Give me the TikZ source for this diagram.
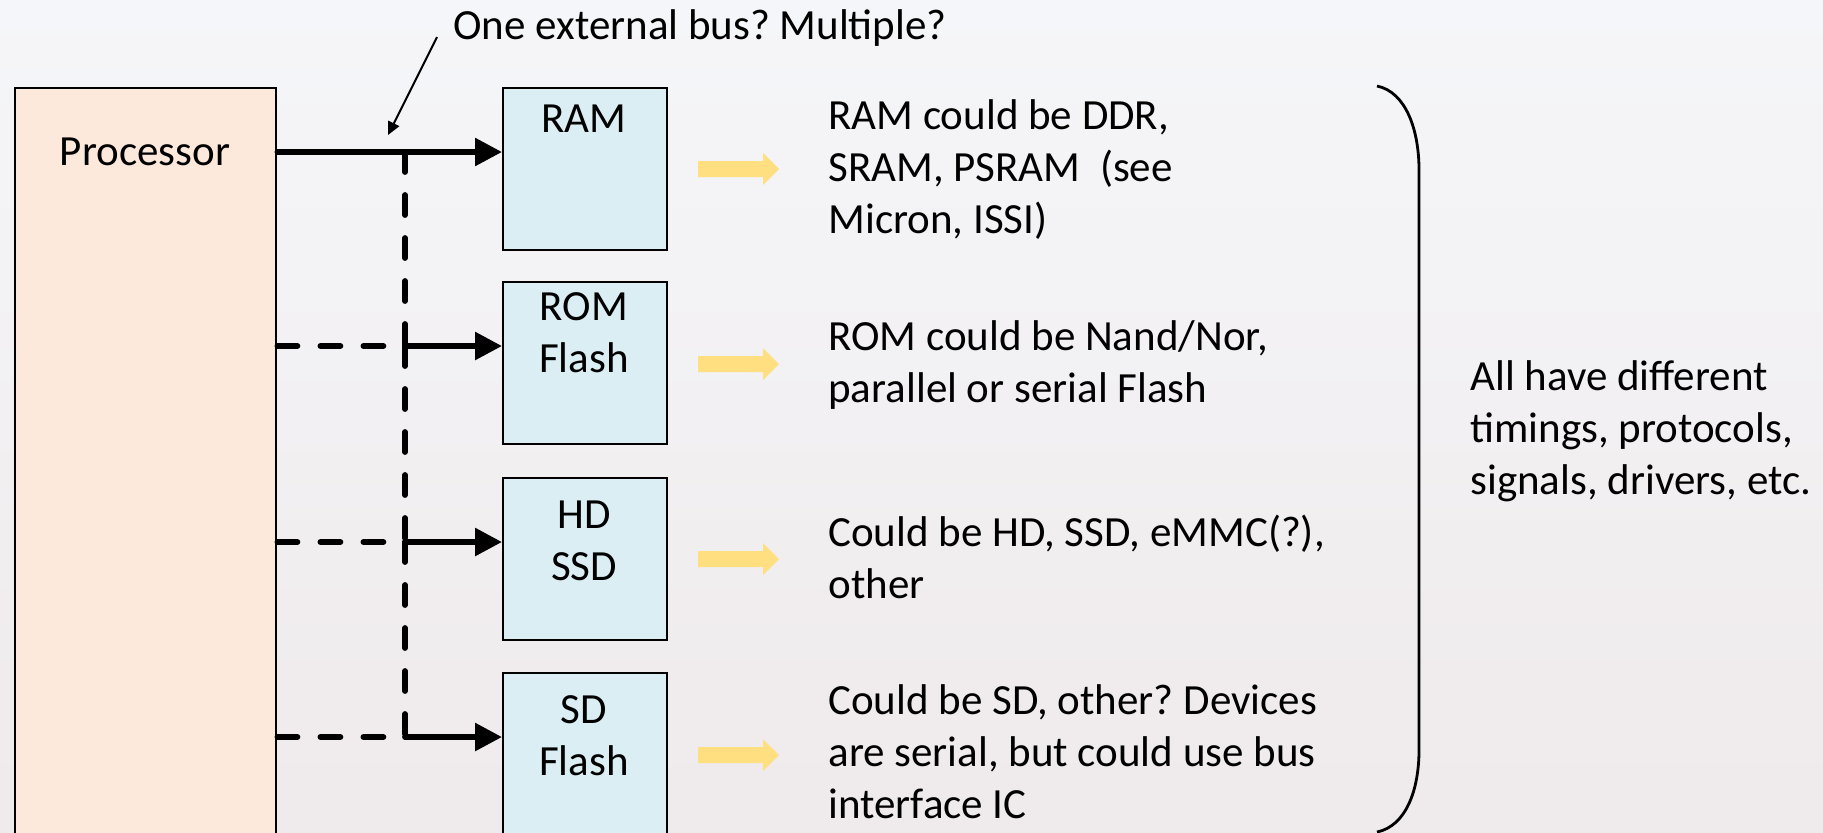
\documentclass[tikz,border=0pt]{standalone}
\usepackage{fontspec}
\setmainfont{Carlito}
\frenchspacing
\usetikzlibrary{arrows.meta,calc}
\definecolor{procfill}{RGB}{252,233,219}
\definecolor{memfill}{RGB}{219,238,244}
\definecolor{yel}{RGB}{255,223,128}
\definecolor{bgA}{RGB}{245,246,249}
\definecolor{bgB}{RGB}{239,234,235}
\begin{document}
\begin{tikzpicture}[x=0.5pt,y=-0.5pt,
  font=\fontsize{21.5pt}{26pt}\selectfont,
  procbox/.style={draw, line width=1.2pt, fill=procfill, anchor=north west, minimum width=130.5pt, minimum height=400pt, inner sep=0pt},
  membox/.style={draw, line width=1.2pt, fill=memfill, anchor=north west, minimum width=82pt, minimum height=81pt, inner sep=0pt},
  lbl/.style={inner sep=0pt, anchor=base, align=center},
  desc/.style={inner sep=0pt, anchor=base west, align=left},
  bus/.style={line width=2.9pt, line cap=round},
  busarrow/.style={bus, -{Triangle[length=13.5pt,width=13.5pt]}},
  dashbus/.style={bus, dash pattern=on 10pt off 11.5pt},
  callout/.style={line width=1pt, -{Triangle[length=6.5pt,width=6pt]}},
  bracestyle/.style={line width=1.4pt}
]
\useasboundingbox (0,0) rectangle (1823,832);
\shade[top color=bgA, bottom color=bgB] (0,0) rectangle (1823,832);
\clip (0,0) rectangle (1823,832);

% boxes
\node[procbox] (proc) at (14,87) {};
\node[lbl] (proct) at (145,165) {Processor};
\node[membox] (ram) at (502,87) {};
\node[membox] (rom) at (502,281) {};
\node[membox] (hd) at (502,477) {};
\node[membox] (sd) at (502,672) {};
\node[lbl] (ramt) at (584,132) {RAM};
\node[lbl] (romt) at (584,372) {ROM\\Flash};
\node[lbl] (hdt) at (584,580) {HD\\SSD};
\node[lbl] (sdt) at (584,775) {SD\\Flash};

% bus junctions
\coordinate (j1) at (405,152);
\coordinate (j2) at (405,346);
\coordinate (j3) at (405,542);
\coordinate (j4) at (405,737);

\draw[dashbus] (j1) -- (j2);
\draw[dashbus] (j2) -- (j3);
\draw[dashbus] (j3) -- (j4);
\draw[dashbus] (proc.east |- j2) -- (j2);
\draw[dashbus] (proc.east |- j3) -- (j3);
\draw[dashbus] (proc.east |- j4) -- (j4);
\draw[busarrow] (proc.east |- j1) -- (j1 -| ram.west);
\draw[busarrow] (j2) -- (j2 -| rom.west);
\draw[busarrow] (j3) -- (j3 -| hd.west);
\draw[busarrow] (j4) -- (j4 -| sd.west);

% callout
\node[desc] (q) at (453,39) {One external bus? Multiple?};
\coordinate (cs) at (437,37);
\coordinate (ce) at (388,135);
\draw[callout] (cs) -- (ce);

% yellow arrows
\foreach \yy in {169,364,559,755}
  \fill[yel] (698,\yy-8) -- (763,\yy-8) -- (763,\yy-16) -- (779,\yy) -- (763,\yy+16) -- (763,\yy+8) -- (698,\yy+8) -- cycle;

% descriptions
\node[desc] (dram) at (828,233) {RAM could be DDR,\\SRAM, PSRAM \ (see\\Micron, ISSI)};
\node[desc] (drom) at (828,402) {ROM could be Nand/Nor,\\parallel or serial Flash};
\node[desc] (dhd) at (828,598) {Could be HD, SSD, eMMC(?),\\other};
\node[desc] (dsd) at (828,818) {Could be SD, other? Devices\\are serial, but could use bus\\interface IC};

% brace
\draw[bracestyle] (1377,86) .. controls (1406,92) and (1419,130) .. (1419,170) -- (1419,750) .. controls (1419,790) and (1406,826) .. (1377,832);
\node[desc] (all) at (1470,494) {All have different\\timings, protocols,\\signals, drivers, etc.};
\end{tikzpicture}
\end{document}
